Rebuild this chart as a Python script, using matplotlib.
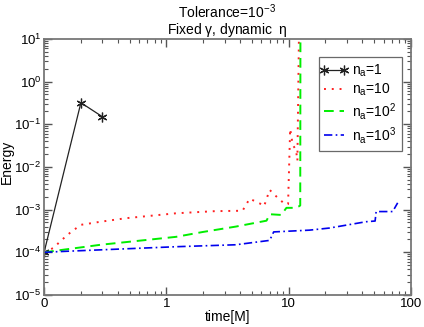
import matplotlib
matplotlib.use('Agg')
import matplotlib.pyplot as plt
from matplotlib.legend_handler import HandlerLine2D
from matplotlib.ticker import FixedLocator, FixedFormatter, LogLocator, NullFormatter

plt.rcParams['font.family'] = ['Liberation Sans', 'DejaVu Sans']
plt.rcParams['mathtext.fontset'] = 'custom'
plt.rcParams['mathtext.rm'] = 'Liberation Sans'
plt.rcParams['mathtext.it'] = 'Liberation Sans'

# time axis is log, the first decade (0.1) is labelled "0"
na1_t = [0.1, 0.2, 0.3]
na1_e = [1e-4, 0.32, 0.15]

na10_t = [0.1, 0.119, 0.141, 0.165, 0.2, 0.29, 0.47, 1.2, 2.5, 4.2, 4.8, 5.8,
          6.3, 7.0, 7.7, 8.5, 9.3, 9.9, 10.3, 10.8, 11.5, 11.8, 12.2]
na10_e = [1e-4, 1.26e-4, 2.0e-4, 2.95e-4, 4.4e-4, 5.2e-4, 6.3e-4, 8.2e-4, 9.2e-4,
          9.4e-4, 1.8e-3, 1.4e-3, 1.2e-3, 2.9e-3, 2.2e-3, 1.7e-3, 1.35e-3, 1.35e-3,
          0.078, 0.033, 0.025, 0.014, 30]

na100_t = [0.1, 0.29, 1.2, 2.0, 3.7, 6.6, 7.0, 8.7, 9.6, 11.2, 12.2, 12.45, 12.5]
na100_e = [1e-4, 1.5e-4, 2.3e-4, 3.0e-4, 4.0e-4, 5.5e-4, 7.8e-4, 7.5e-4, 1.1e-3,
           1.1e-3, 1.2e-3, 1.25e-3, 30]

na1000_t = [0.1, 0.17, 1.2, 3.7, 7.0, 7.55, 14.8, 21.6, 43, 51, 52, 71, 78]
na1000_e = [1e-4, 1.07e-4, 1.35e-4, 1.5e-4, 1.9e-4, 3.0e-4, 3.3e-4, 3.7e-4, 5.2e-4,
            5.4e-4, 9e-4, 9e-4, 1.44e-3]

x_ticks = [0.1, 1, 10, 100]
x_labels = ['0', '1', '10', '100']

fig = plt.figure(figsize=(4.24, 3.27), dpi=100)
ax = fig.add_axes([0.104, 0.098, 0.865, 0.783])

l1, = ax.plot(na1_t, na1_e, color='#222222', lw=0.9, marker=(6, 2, 0), ms=7,
              mew=0.9, label='$\\mathregular{n_a}$=1')
ax.plot(na10_t, na10_e, color='#ff2020', lw=1.4, ls=(0, (1, 3)),
        label='$\\mathregular{n_a}$=10')
ax.plot(na100_t, na100_e, color='#00ee00', lw=1.4, ls=(0, (5, 3)),
        label='$\\mathregular{n_a}$=10$^\\mathregular{2}$')
ax.plot(na1000_t, na1000_e, color='#0000ee', lw=1.2, ls=(0, (5, 2, 1, 2)),
        label='$\\mathregular{n_a}$=10$^\\mathregular{3}$')

ax.set_xscale('log')
ax.set_yscale('log')
ax.set_xlim(0.1, 100)
ax.set_ylim(1e-5, 10)

ax.xaxis.set_major_locator(FixedLocator(x_ticks))
ax.xaxis.set_major_formatter(FixedFormatter(x_labels))
ax.xaxis.set_minor_locator(LogLocator(base=10, subs=range(2, 10)))
ax.xaxis.set_minor_formatter(NullFormatter())
ax.yaxis.set_major_locator(LogLocator(base=10, numticks=10))
ax.yaxis.set_minor_locator(LogLocator(base=10, subs=range(2, 10), numticks=10))
ax.yaxis.set_minor_formatter(NullFormatter())

ax.tick_params(which='both', direction='in', top=True, right=True,
               color='#555555')
ax.tick_params(axis='y', labelsize=9.5, pad=2)
ax.tick_params(axis='x', labelsize=9.5, pad=2)
ax.tick_params(which='major', length=6, width=1)
ax.tick_params(which='minor', length=3, width=0.8)
for s in ax.spines.values():
    s.set_color('#777777')
    s.set_linewidth(1.3)

ax.set_xlabel('time[M]', fontsize=10, labelpad=0)
ax.set_ylabel('Energy', fontsize=10)
ax.yaxis.set_label_coords(-0.082, 0.52)
ax.set_title('Tolerance=10$^\\mathregular{-3}$\nFixed $\\gamma$, dynamic  $\\eta$',
             fontsize=10, linespacing=1.0, pad=3)

leg = ax.legend(loc='upper right', bbox_to_anchor=(0.975, 0.93), borderaxespad=0,
                fontsize=10, frameon=True, fancybox=False, handlelength=1.4,
                handletextpad=0.6, labelspacing=0.2, borderpad=0.4,
                handler_map={l1: HandlerLine2D(marker_pad=0, numpoints=2)})
leg.get_frame().set_edgecolor('#444444')
leg.get_frame().set_linewidth(0.9)

plt.savefig('out.png', dpi=100)
